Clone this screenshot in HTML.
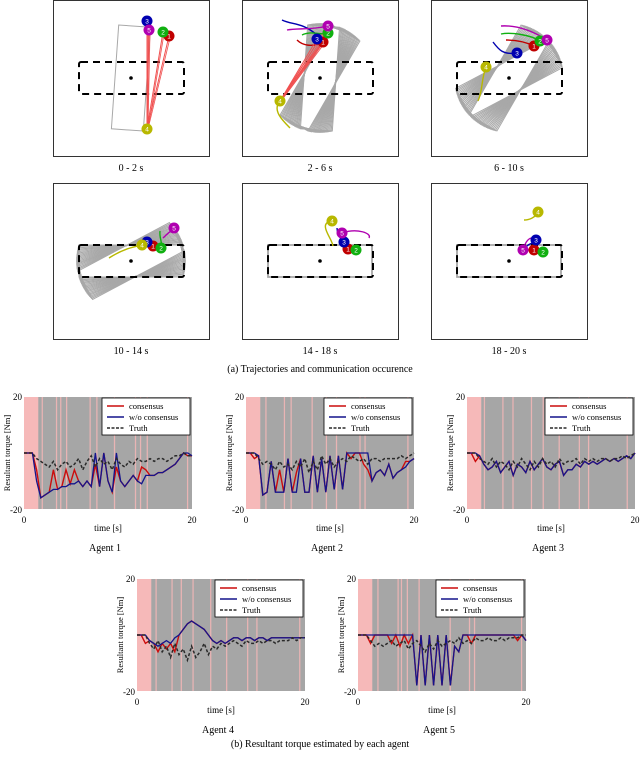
<!DOCTYPE html>
<html><head><meta charset="utf-8"><style>
body{margin:0;background:#fff;}
svg{display:block;font-family:"Liberation Serif",serif;}
</style></head><body>
<svg id="fig" width="640" height="757" viewBox="0 0 640 757" xmlns="http://www.w3.org/2000/svg">
<g id="traj"></g>
<text x="320" y="372" font-size="10" text-anchor="middle">(a) Trajectories and communication occurence</text>
<g id="charts"></g>
<text x="320" y="747" font-size="10" text-anchor="middle">(b) Resultant torque estimated by each agent</text>
</svg>
<script>
// ---- chart data (t = 0..20 step 0.5) ----
const tStep = 0.5;
const agentNames = ["Agent 1","Agent 2","Agent 3","Agent 4","Agent 5"];
const truth1 = [0,0,0,-2,-3,-4,-5,-3,-6,-4,-3,-5,-4,-2,-6,-3,-1,-5,-2,-4,-3,-6,-2,-4,-5,-3,-4,-2,-3,-3,-2,-3,-2,-2,-3,-2,-1,-1,0,-1,-1];
const blue1 = [0,0,0,-10,-16,-15,-14,-13,-13,-12,-12,-11,-11,-10,-12,-10,-12,0,-12,0,-10,-14,0,-10,-12,-10,-8,-10,-11,-8,-8,-8,-7,-7,-6,-5,-4,-2,0,0,-1];
const red1 = [0,0,0,-6,-16,-15,-14,-6,-13,-12,-6,-11,-6,-10,-12,-10,-12,-4,-12,0,-10,-14,-5,-10,-12,-10,-8,-10,-5,-6,-8,-8,-7,-7,-6,-5,-4,-2,0,-1,-1];
const truth2 = [0,0,0,-2,-4,-3,-4,-6,-3,-5,-4,-6,-3,-5,-2,-7,-3,-6,-1,-4,-2,-5,-3,-2,-3,-1,-2,-3,-2,-4,-2,-2,-3,-2,-2,-2,-2,-1,-2,-1,0];
const blue2 = [0,0,0,-1,-15,-14,-3,-14,-14,-14,-2,-14,-14,-2,-14,-14,-1,-14,-2,-14,-1,-13,-1,-13,0,0,0,0,0,0,-10,-7,-6,-8,-4,-9,-7,-6,-5,-3,-2];
const red2 = [0,0,-2,-1,-15,-14,-3,-14,-6,-14,-2,-14,-7,-2,-14,-14,-1,-14,-2,-14,-1,-13,-1,-13,0,-2,0,0,-4,-6,-10,-7,-6,-8,-4,-9,-7,-6,-3,-3,-2];
const truth3 = [0,0,0,-2,-3,-4,-2,-5,-3,-4,-6,-3,-5,-2,-4,-6,-3,-5,-2,-4,-3,-5,-2,-4,-3,-3,-2,-4,-2,-3,-2,-3,-2,-2,-3,-2,-2,-1,-2,-1,0];
const blue3 = [0,0,0,-1,-4,-6,-5,-3,-7,-5,-3,-8,-4,-5,-7,-3,-6,-4,-2,-5,-6,-4,-3,-8,-6,-6,-4,-5,-3,-4,-3,-4,-3,-2,-3,-2,-3,-2,-1,-2,0];
const red3 = [0,0,-3,-1,-4,-6,-5,-3,-7,-5,-3,-8,-4,-5,-7,-3,-6,-4,-2,-5,-6,-4,-3,-8,-6,-6,-4,-5,-3,-4,-3,-4,-3,-2,-3,-2,-3,-2,-1,-2,0];
const truth4 = [0,0,0,-3,-5,-2,-6,-4,-8,-3,-7,-5,-9,-4,-8,-6,-3,-7,-4,-5,-3,-4,-3,-2,-3,-4,-2,-3,-3,-2,-3,-2,-2,-3,-2,-2,-2,-1,-2,-1,-1];
const blue4 = [0,0,0,-2,-3,-4,-3,-2,-3,-1,0,2,4,5,4,3,2,0,-2,-3,-2,-3,-2,-1,-1,-2,-1,-1,-2,-1,-1,-2,-1,-1,-1,-1,-1,-1,-1,-1,-1];
const red4 = [0,0,-3,-2,-3,-6,-3,-5,-3,-6,0,2,4,5,4,3,2,0,-2,-3,-2,-3,-2,-1,-1,-2,-1,-1,-2,-1,-1,-2,-1,-1,-1,-1,-1,-1,-1,-1,-1];
const truth5 = [0,0,0,-2,-4,-3,-4,-3,-2,-4,-3,-2,-5,-3,-2,-4,-6,-3,-5,-2,-4,-3,-2,-3,-1,-3,-2,-3,-1,-2,-2,-1,-2,-2,-1,-2,-1,-1,-1,0,0];
const blue5 = [0,0,0,0,0,0,0,0,0,0,0,0,0,0,-18,0,-18,0,-18,0,-18,0,-18,-4,-6,0,0,0,0,0,0,0,0,0,0,0,0,0,0,0,-2];
const red5 = [0,0,0,-3,0,0,0,0,-3,0,-4,0,-3,0,-18,0,-18,0,-18,0,-18,0,-18,-4,-6,0,0,-3,0,0,0,0,0,0,0,0,0,0,-2,0,-2];
const stripes1 = [2.1,3.8,4.3,5.0,7.8,8.6,10.7,13.2,13.8,14.6,19.4];
const stripes2 = [2.3,4.5,5.3,7.8,9.5,10.7,13.5,14.1,19.2];
const stripes3 = [2.0,4.2,5.4,7.6,9.0,10.9,13.3,14.4,19.0];
const stripes4 = [2.2,4.1,5.2,6.6,8.7,10.6,13.1,14.2,19.3];
const stripes5 = [2.3,4.7,5.1,5.8,7.2,10.9,13.2,13.8,19.4];
const yTicks = ["20","-20"];
const xTicks = ["0","20"];

const NS="http://www.w3.org/2000/svg";
function mk(tag,attrs,parent){const e=document.createElementNS(NS,tag);for(const k in attrs)e.setAttribute(k,attrs[k]);parent.appendChild(e);return e;}

const truths=[truth1,truth2,truth3,truth4,truth5],blues=[blue1,blue2,blue3,blue4,blue5],reds=[red1,red2,red3,red4,red5],stripes=[stripes1,stripes2,stripes3,stripes4,stripes5];
const origins=[[24,397],[246,397],[467,397],[137,579],[358,579]];
const W=168,H=112;
const charts=document.getElementById('charts');
origins.forEach((o,i)=>{
  const g=mk('g',{},charts);
  
  
  const X=t=>o[0]+t/20*W, Y=v=>o[1]+(20-v)/40*H;
  const bg=mk('rect',{x:o[0],y:o[1],width:W,height:H,fill:'#a6a6a6'},g);
  
  
  const pk=mk('rect',{x:X(0),y:o[1],width:X(1.7)-X(0),height:H,fill:'#f6b9b9'},g);
  
  
  stripes[i].forEach(s=>{
    const r=mk('rect',{x:X(s),y:o[1],width:X(s+0.15)-X(s),height:H,fill:'#e9b4b4'},g);
    
    
  });
  const pts=a=>a.map((v,k)=>X(k*tStep).toFixed(1)+','+Y(v).toFixed(1)).join(' ');
  const lr=mk('polyline',{points:pts(reds[i]),fill:'none',stroke:'#cc0c0c','stroke-width':1.4},g);
  
  
  const lb=mk('polyline',{points:pts(blues[i]),fill:'none',stroke:'#14148c','stroke-width':1.3},g);
  
  
  const lt=mk('polyline',{points:pts(truths[i]),fill:'none',stroke:'#2a2a2a','stroke-width':1.5,'stroke-dasharray':'3,2'},g);
  
  
  // legend
  const lg=mk('g',{},g);
  
  
  const lx=o[0]+78, ly=o[1]+1;
  mk('rect',{x:lx,y:ly,width:88,height:37,fill:'#fff',stroke:'#000','stroke-width':0.8},lg);
  const items=[['consensus','#cc0c0c',''],['w/o consensus','#14148c',''],['Truth','#2a2a2a','3,1.5']];
  items.forEach((it,k)=>{
    const yy=ly+8+k*11;
    mk('line',{x1:lx+5,y1:yy,x2:lx+22,y2:yy,stroke:it[1],'stroke-width':1.5,'stroke-dasharray':it[2]||'none'},lg);
    const tx=mk('text',{x:lx+27,y:yy+3,'font-size':8.5},lg);tx.textContent=it[0];
    
    
  });
  const t1=mk('text',{x:o[0]-2,y:o[1]+3,'font-size':9,'text-anchor':'end'},g);t1.textContent=yTicks[0];
  
  
  const t2=mk('text',{x:o[0]-2,y:o[1]+H+4,'font-size':9,'text-anchor':'end'},g);t2.textContent=yTicks[1];
  
  
  const t3=mk('text',{x:o[0],y:o[1]+H+14,'font-size':9,'text-anchor':'middle'},g);t3.textContent=xTicks[0];
  
  
  const t4=mk('text',{x:o[0]+W,y:o[1]+H+14,'font-size':9,'text-anchor':'middle'},g);t4.textContent=xTicks[1];
  
  
  const xl=mk('text',{x:o[0]+W/2,y:o[1]+H+22,'font-size':9,'text-anchor':'middle'},g);xl.textContent='time [s]';
  
  
  const yl=mk('text',{x:0,y:0,'font-size':8.5,'text-anchor':'middle',transform:`translate(${o[0]-14},${o[1]+H/2}) rotate(-90)`},g);yl.textContent='Resultant torque [Nm]';
  
  
  const al=mk('text',{x:o[0]+W/2-3,y:o[1]+H+42,'font-size':10,'text-anchor':'middle'},g);al.textContent=agentNames[i];
  
  
});

// ---- trajectory panels ----
const panelLabels=["0 - 2 s","2 - 6 s","6 - 10 s","10 - 14 s","14 - 18 s","18 - 20 s"];
const panelOrigins=[[53,0],[242,0],[431,0],[53,183],[242,183],[431,183]];
const angStart=[4,4,30,62,90,90], angEnd=[4,30,62,90,90,90];
const agentColors=["#c00000","#10b010","#0000b0","#b8b800","#b000b0"];
const posX=[[116,110,94,94,96],[81,86,75,38,86],[103,109,86,55,116],[100,108,94,89,121],[106,114,102,90,100],[103,112,105,107,92]];
const posY=[[36,32,21,129,30],[42,33,39,101,26],[46,41,53,67,40],[63,65,59,62,45],[66,67,59,38,50],[67,69,57,29,67]];
const trails=[
 [],
 ["M40,20 C50,25 60,22 75,35","M45,30 C55,28 70,30 86,26","M38,101 C30,110 40,120 48,128","M60,35 C70,30 80,36 85,33","M55,40 C60,45 70,48 81,42"],
 ["M62,42 C68,50 72,55 86,53","M70,26 C85,25 100,30 116,40","M55,67 C50,80 52,90 47,101","M70,34 C80,32 100,35 109,41","M75,40 C85,40 95,42 103,46"],
 ["M107,48 C106,55 110,60 108,65","M110,55 C115,50 118,48 121,45","M56,75 C70,66 80,64 89,62"],
 ["M100,50 C115,45 130,50 127,55","M95,45 C95,50 98,55 102,59","M90,38 C75,40 90,55 91,63"],
 ["M92,67 C94,60 97,56 100,55","M103,60 C100,60 96,62 92,67","M107,29 C104,35 98,37 93,37"]];
const trailColors=[[],["#0000b0","#b000b0","#b8b800","#10b010","#c00000"],["#0000b0","#b000b0","#b8b800","#10b010","#c00000"],["#10b010","#b000b0","#b8b800"],["#b000b0","#0000b0","#b8b800"],["#b000b0","#0000b0","#b8b800"]];
const traj=document.getElementById('traj');
panelOrigins.forEach((o,p)=>{
  const g=mk('g',{transform:`translate(${o[0]},${o[1]})`},traj);
  
  
  mk('rect',{x:0.5,y:0.5,width:156,height:156,fill:'#fff',stroke:'#333','stroke-width':1},g);
  const cx=78,cy=78;
  const n=angStart[p]===angEnd[p]?1:20;
  for(let k=0;k<n;k++){
    const a=(angStart[p]+(angEnd[p]-angStart[p])*k/Math.max(1,n-1))*Math.PI/180;
    const hl=52,hw=16;
    const ux=Math.sin(a),uy=-Math.cos(a),vx=Math.cos(a),vy=Math.sin(a);
    const c=[[hl,hw],[hl,-hw],[-hl,-hw],[-hl,hw]].map(([l,w])=>(cx+ux*l+vx*w).toFixed(1)+','+(cy+uy*l+vy*w).toFixed(1)).join(' ');
    const r=mk('polygon',{points:c,fill:'none',stroke:'#a8a8a8','stroke-width':p>=4?1.8:1},g);
    
    
  }
  const d=mk('rect',{x:26,y:62,width:105,height:32,rx:2,fill:'none',stroke:'#000','stroke-width':2,'stroke-dasharray':'7,5'},g);
  
  
  mk('circle',{cx:cx,cy:cy,r:1.8,fill:'#000'},g);
  (trails[p]||[]).forEach((dd,k)=>{
    const pth=mk('path',{d:dd,fill:'none',stroke:trailColors[p][k],'stroke-width':1.4},g);
    
    
  });
  if(p<=1){
    for(let a=0;a<5;a++){ if(a===3) continue;
      mk('line',{x1:posX[p][3],y1:posY[p][3],x2:posX[p][a],y2:posY[p][a],stroke:'#f05050','stroke-width':1},g);
      mk('line',{x1:posX[p][3]+1,y1:posY[p][3],x2:posX[p][a]+1,y2:posY[p][a]+2,stroke:'#f05050','stroke-width':0.8},g);
    }
  }
  for(let a=0;a<5;a++){
    const c=mk('circle',{cx:posX[p][a],cy:posY[p][a],r:5.5,fill:agentColors[a]},g);
    
    
    const t=mk('text',{x:posX[p][a],y:posY[p][a]+2.5,'font-size':6.5,fill:'#fff','text-anchor':'middle','font-family':'Liberation Sans, sans-serif'},g);
    t.textContent=String(a+1);
  }
  const lb=mk('text',{x:78,y:171,'font-size':10,'text-anchor':'middle'},g);lb.textContent=panelLabels[p];
  
  
});
</script>
</body></html>
